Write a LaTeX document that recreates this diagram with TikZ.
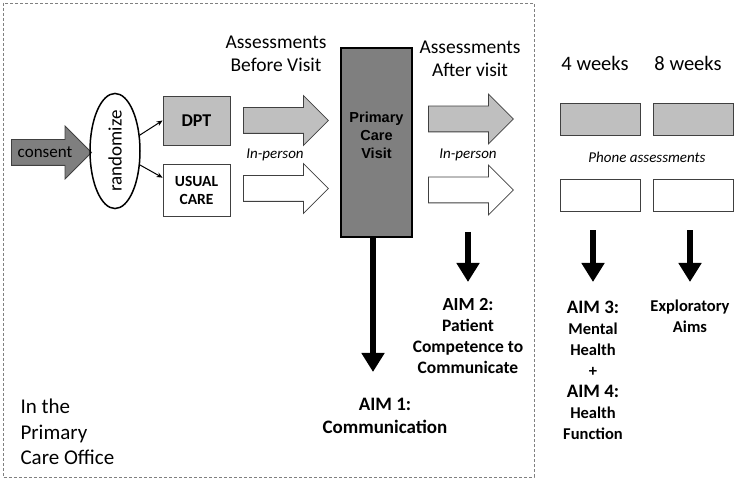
\documentclass[tikz,border=0pt]{standalone}
\usepackage{fontspec}
\setmainfont{Carlito}
\newfontfamily\arialfont{Liberation Sans}
\usepackage{graphicx}
\usetikzlibrary{shapes.geometric,shapes.arrows,arrows.meta}
\definecolor{lightfill}{HTML}{BFBFBF}
\definecolor{darkfill}{HTML}{7F7F7F}

\begin{document}
\begin{tikzpicture}[x=1pt,y=-1pt,
	box/.style={draw=black!75, line width=0.8pt, inner sep=0pt},
	fatarrow/.style={single arrow, draw=black!75, line width=0.8pt, inner xsep=0pt, inner ysep=12.5pt,
		single arrow head extend=12pt, single arrow head indent=0pt, minimum height=85pt, anchor=tail},
	downarrow/.style={line width=6pt, -{Triangle[length=19pt,width=22pt]}},
	big/.style={font=\fontsize{19.5}{22.5}\selectfont, align=center},
	note/.style={font=\fontsize{15}{17}\selectfont\itshape},
	aim/.style={font=\fontsize{16.5}{21}\selectfont\bfseries, align=center, inner sep=0pt, anchor=north}]
	\useasboundingbox (0,0) rectangle (737,481);
	
	% Oficina de atencion primaria
	\draw[gray, line width=0.7pt, dash pattern=on 3pt off 2pt] (3,3) rectangle (534,477);
	\node[align=left, anchor=west, font=\fontsize{21}{25.5}\selectfont] (office) at (17,432) {In the\\Primary\\Care Office};
	
	% Consentimiento y aleatorizacion
	\node[fatarrow, anchor=center, fill=darkfill, minimum height=80pt, inner xsep=0pt, inner ysep=7.5pt, text height=10pt, text depth=0pt,
		single arrow head extend=13.5pt, font=\fontsize{17}{18}\selectfont] (consent) at (45,152.5) {consent};
	\node[ellipse, draw, line width=1.5pt, minimum width=50pt, minimum height=108pt, inner sep=0pt,
		font=\fontsize{19}{22}\selectfont] (rand) at (115,151) {\rotatebox{90}{randomize}};
	\node[box, fill=lightfill, minimum width=67pt, minimum height=49pt, font=\fontsize{18}{20}\selectfont\bfseries] (dpt) at (196.5,120.5) {DPT};
	\node[box, fill=white, minimum width=67pt, minimum height=52pt, align=center, font=\fontsize{15.5}{18}\selectfont\bfseries] (usual) at (196.5,190) {USUAL\\CARE};
	\draw[-{Stealth[length=6pt,width=5pt]}, line width=1pt] (rand) -- (dpt.west);
	\draw[-{Stealth[length=6pt,width=5pt]}, line width=1pt] (rand) -- (usual.160);
	
	% Evaluaciones antes de la visita
	\node[big] (before) at (276,54) {Assessments\\Before Visit};
	\node[fatarrow, fill=lightfill] (pre1) at (243,120.5) {};
	\node[fatarrow, fill=white] (pre2) at (243,188.5) {};
	\node[note] (inperson1) at (275,155) {In-person};
	
	% Visita de atencion primaria
	\node[draw, line width=2.5pt, fill=darkfill, minimum width=71pt, minimum height=189pt, inner sep=0pt, align=center,
		text depth=14pt, font=\arialfont\bfseries\fontsize{14.5}{18}\selectfont] (pcv) at (376.5,142.5) {Primary\\Care\\Visit};
	\node[aim, font=\fontsize{19}{23}\selectfont\bfseries] (aim1) at (385,398) {AIM 1:\\Communication};
	\draw[downarrow, shorten >=26pt] ([xshift=-3.5pt]pcv.south) -- ([xshift=-3.5pt]pcv.south |- aim1.north);
	
	% Evaluaciones despues de la visita
	\node[big, font=\fontsize{19.5}{23}\selectfont] (after) at (470,59) {Assessments\\After visit};
	\node[fatarrow, fill=lightfill] (post1) at (428,119) {};
	\node[fatarrow, fill=white] (post2) at (428,190) {};
	\node[note] (inperson2) at (468,155) {In-person};
	\coordinate (aim2top) at (468,232);
	\node[aim, font=\fontsize{17.5}{21}\selectfont\bfseries] (aim2) at (468,298) {{\fontsize{18.5}{21}\selectfont AIM 2:}\\Patient\\Competence to\\Communicate};
	\draw[downarrow, shorten >=16pt] (aim2top) -- (aim2.north);
	
	% Evaluaciones por telefono
	\node[big, font=\fontsize{20.5}{23}\selectfont] (wk4) at (595,63) {4 weeks};
	\node[big, font=\fontsize{20.5}{23}\selectfont] (wk8) at (688,63) {8 weeks};
	\node[box, fill=lightfill, minimum width=80pt, minimum height=32pt] (wk4a) at (600,119) {};
	\node[box, fill=lightfill, minimum width=80pt, minimum height=32pt] (wk8a) at (693,119) {};
	\node[box, fill=white, minimum width=80pt, minimum height=32pt] (wk4b) at (600,195) {};
	\node[box, fill=white, minimum width=80pt, minimum height=32pt] (wk8b) at (693,195) {};
	\node[note] (phone) at (647,157) {Phone assessments};
	
	% Objetivos
	\node[aim] (aim3) at (593,301) {{\fontsize{19}{21}\selectfont AIM 3:}\\Mental\\Health\\+\\{\fontsize{19}{21}\selectfont AIM 4:}\\Health\\Function};
	\node[aim] (expl) at (690,300) {Exploratory\\Aims};
	\draw[downarrow, shorten <=19pt, shorten >=19pt] (aim3.north |- wk4b.south) -- (aim3.north);
	\draw[downarrow, shorten <=19pt, shorten >=18pt] (expl.north |- wk8b.south) -- (expl.north);
\end{tikzpicture}
\end{document}
